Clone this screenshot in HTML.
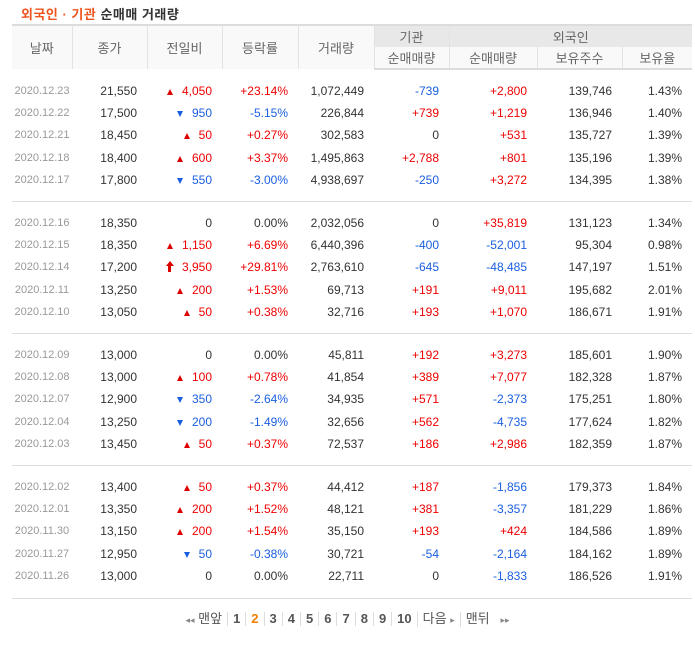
<!DOCTYPE html>
<html><head><meta charset="utf-8">
<style>
body{margin:0;background:#fff;width:695px;height:650px;overflow:hidden;font-family:"Liberation Sans","Noto Sans CJK KR",sans-serif;}
#title{position:absolute;left:21px;top:4px;font-size:13px;font-weight:bold;color:#333;letter-spacing:0.5px}
#title .o{color:#f0541f}
table{position:absolute;left:12px;top:24px;width:680px;border-collapse:collapse;table-layout:fixed}
th{font-weight:normal;color:#666;font-size:13px;height:21px;padding:0;border-left:1px solid #e3e3e3;background:#f9f9f9}
th.g{background:#e8e8e8}
thead tr:first-child th{border-top:2px solid #dcdcdc}
thead tr:last-child th{border-bottom:2px solid #dcdcdc}
th.first{border-left:none}
td{font-size:12px;color:#333;height:22.4px;padding:0 10px 0 0;text-align:right;white-space:nowrap}
td.d{font-size:11px;color:#999;text-align:center;padding:0}
.r{color:#e00}.b{color:#1a5ee0}
tr.pad td{height:9.5px;padding:0}
tr.sep td{border-top:1px solid #ddd}
.up{display:inline-block;width:0;height:0;border-left:3.5px solid transparent;border-right:3.5px solid transparent;border-bottom:6px solid #d00;margin-right:9px}
.dn{display:inline-block;width:0;height:0;border-left:3.5px solid transparent;border-right:3.5px solid transparent;border-top:6px solid #1a5ee0;margin-right:9px}
.lim{display:inline-block;position:relative;width:8px;height:11px;margin-right:8px;vertical-align:-1px}
.lim:before{content:"";position:absolute;left:0;top:0;border-left:4px solid transparent;border-right:4px solid transparent;border-bottom:5px solid #d00}
.lim:after{content:"";position:absolute;left:2.5px;top:5px;width:3px;height:6px;background:#d00}
#bottom{position:absolute;left:12px;top:598px;width:680px;border-top:1px solid #ddd}
#pager{position:absolute;top:611px;left:0;width:695px;text-align:center;font-size:13px;color:#555}
#pager span{display:inline-block;padding:0 5px;border-left:1px solid #ddd;line-height:14px;font-weight:bold}
#pager span.t{font-weight:normal}
#pager span.n{border-left:none}
#pager .cur{color:#f08000}
#pager i{font-style:normal;color:#888;font-size:9px}
</style></head><body>
<div id="title"><span class="o">외국인 · 기관</span> 순매매 거래량</div>
<table>
<colgroup><col style="width:60px"><col style="width:75px"><col style="width:75px"><col style="width:76px"><col style="width:76px"><col style="width:75px"><col style="width:88px"><col style="width:85px"><col style="width:70px"></colgroup>
<thead>
<tr><th rowspan="2" class="first">날짜</th><th rowspan="2">종가</th><th rowspan="2">전일비</th><th rowspan="2">등락률</th><th rowspan="2">거래량</th><th class="g">기관</th><th class="g" colspan="3">외국인</th></tr>
<tr><th>순매매량</th><th>순매매량</th><th>보유주수</th><th>보유율</th></tr>
</thead>
<tbody id="tb"></tbody>
</table>
<div id="bottom"></div>
<div id="pager">
<span class="t n"><i>◂◂</i> 맨앞</span><span>1</span><span class="cur">2</span><span>3</span><span>4</span><span>5</span><span>6</span><span>7</span><span>8</span><span>9</span><span>10</span><span class="t">다음 <i>▸</i></span><span class="t">맨뒤 &nbsp; <i>▸▸</i></span>
</div>
<script>
const dates=["2020.12.23","2020.12.22","2020.12.21","2020.12.18","2020.12.17","2020.12.16","2020.12.15","2020.12.14","2020.12.11","2020.12.10","2020.12.09","2020.12.08","2020.12.07","2020.12.04","2020.12.03","2020.12.02","2020.12.01","2020.11.30","2020.11.27","2020.11.26"];
const closes=["21,550","17,500","18,450","18,400","17,800","18,350","18,350","17,200","13,250","13,050","13,000","13,000","12,900","13,250","13,450","13,400","13,350","13,150","12,950","13,000"];
const changeDir=["up","dn","up","up","dn","0","up","lim","up","up","0","up","dn","dn","up","up","up","up","dn","0"];
const changes=["4,050","950","50","600","550","0","1,150","3,950","200","50","0","100","350","200","50","50","200","200","50","0"];
const rates=["+23.14%","-5.15%","+0.27%","+3.37%","-3.00%","0.00%","+6.69%","+29.81%","+1.53%","+0.38%","0.00%","+0.78%","-2.64%","-1.49%","+0.37%","+0.37%","+1.52%","+1.54%","-0.38%","0.00%"];
const volumes=["1,072,449","226,844","302,583","1,495,863","4,938,697","2,032,056","6,440,396","2,763,610","69,713","32,716","45,811","41,854","34,935","32,656","72,537","44,412","48,121","35,150","30,721","22,711"];
const instNet=["-739","+739","0","+2,788","-250","0","-400","-645","+191","+193","+192","+389","+571","+562","+186","+187","+381","+193","-54","0"];
const frgnNet=["+2,800","+1,219","+531","+801","+3,272","+35,819","-52,001","-48,485","+9,011","+1,070","+3,273","+7,077","-2,373","-4,735","+2,986","-1,856","-3,357","+424","-2,164","-1,833"];
const frgnShares=["139,746","136,946","135,727","135,196","134,395","131,123","95,304","147,197","195,682","186,671","185,601","182,328","175,251","177,624","182,359","179,373","181,229","184,586","184,162","186,526"];
const frgnRatio=["1.43%","1.40%","1.39%","1.39%","1.38%","1.34%","0.98%","1.51%","2.01%","1.91%","1.90%","1.87%","1.80%","1.82%","1.87%","1.84%","1.86%","1.89%","1.89%","1.91%"];
const tb=document.getElementById('tb');
function cls(v){return v[0]=='+'?'r':(v[0]=='-'?'b':'');}
function pad(sep){const tr=document.createElement('tr');tr.className='pad'+(sep?' sep':'');


tr.innerHTML='<td colspan="9"></td>';tb.appendChild(tr);}
for(let i=0;i<dates.length;i++){
 if(i%5==0)pad(i>0);
 const tr=document.createElement('tr');
 
 
 const d=changeDir[i];
 let ch;
 if(d=='up')ch='<span class="r"><span class="up"></span>'+changes[i]+'</span>';
 else if(d=='dn')ch='<span class="b"><span class="dn"></span>'+changes[i]+'</span>';
 else if(d=='lim')ch='<span class="r"><span class="lim"></span>'+changes[i]+'</span>';
 else ch=changes[i];
 tr.innerHTML='<td class="d">'+dates[i]+'</td><td>'+closes[i]+'</td><td>'+ch+'</td><td class="'+cls(rates[i])+'">'+rates[i]+'</td><td>'+volumes[i]+'</td><td class="'+cls(instNet[i])+'">'+instNet[i]+'</td><td class="'+cls(frgnNet[i])+'">'+frgnNet[i]+'</td><td>'+frgnShares[i]+'</td><td>'+frgnRatio[i]+'</td>';
 tb.appendChild(tr);
 if(i%5==4)pad(false);
}
</script>
</body></html>
